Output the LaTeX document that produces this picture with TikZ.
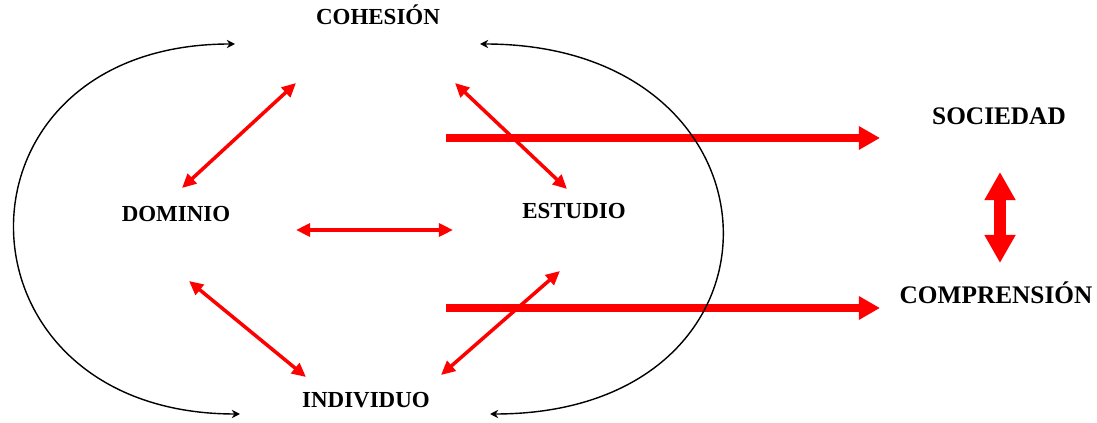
\documentclass[tikz,border=0pt]{standalone}
\usepackage{fontspec}
\setmainfont{Liberation Serif}
\usetikzlibrary{arrows.meta,positioning}

\begin{document}
\begin{tikzpicture}[x=0.03cm,y=0.03cm]
    \tikzset{
        n/.style        =   { text centered
                            , font=\fontsize{19.6}{23}\selectfont\bfseries
                            , text height=12.5pt
                            , text depth=0pt
                            , inner sep=0pt
                            }
        , nb/.style     =   { n
                            , font=\fontsize{21.6}{25}\selectfont\bfseries
                            , text height=13.8pt
                            }
        , rel/.style    =   { red
                            , line width=3pt
                            , >={Triangle[length=12pt,width=11pt]}
                            , <->
                            }
        , big/.style    =   { red
                            , line width=6pt
                            , >={Triangle[length=18pt,width=19pt]}
                            , ->
                            }
        , dbl/.style    =   { red
                            , line width=9.5pt
                            , >={Triangle[length=24pt,width=25pt]}
                            , <->
                            }
        , cyc/.style    =   { black
                            , line width=1.2pt
                            , >={Stealth[length=7pt,width=7pt]}
                            , <->
                            }
    }
    \useasboundingbox (0,0) rectangle (1097,423);

    \node(1)[n] at (378,406) {COHESIÓN};
    \node(2)[n] at (176,209) {DOMINIO};
    \node(3)[n] at (574,212) {ESTUDIO};
    \node(4)[n] at (366,23)  {INDIVIDUO};
    \node(5)[nb] at (999,307) {SOCIEDAD};
    \node(6)[nb] at (996,128) {COMPRENSIÓN};
    \coordinate(a) at (446,285);
    \coordinate(b) at (446,115);

    \draw[rel] ([shift={(6,26)}]2.center) -- ([shift={(-82,-66)}]1.center);
    \draw[rel] ([shift={(77,-66)}]1.center) -- ([shift={(-7,22)}]3.center);
    \draw[rel] ([shift={(120,-16)}]2.center) -- ([shift={(-121,-19)}]3.center);
    \draw[rel] ([shift={(13,-67)}]2.center) -- ([shift={(-60,23)}]4.center);
    \draw[rel] ([shift={(75,25)}]4.center) -- ([shift={(-14,-60)}]3.center);

    \draw[big] (a) -- ([shift={(-119,-22)}]5.center);
    \draw[big] (b) -- ([shift={(-116,-13)}]6.center);
    \draw[dbl] ([shift={(1,-56)}]5.center) -- ([shift={(4,32)}]6.center);

    \draw[cyc] ([shift={(-143,-27)}]1.center) .. controls +(-297,0) and +(-297,0) .. ([shift={(-126,-14)}]4.center);
    \draw[cyc] ([shift={(102,-27)}]1.center) .. controls +(316,0) and +(316,0) .. ([shift={(124,-14)}]4.center);
\end{tikzpicture}
\end{document}
